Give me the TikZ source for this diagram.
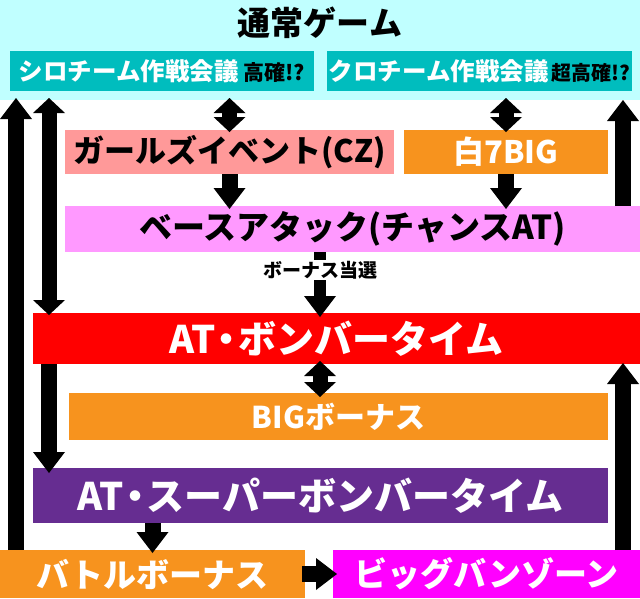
\documentclass[tikz,border=0pt]{standalone}
\usepackage{fontspec}
\setmainfont{Noto Sans CJK JP}[BoldFont={Noto Sans CJK JP Black}]
\usetikzlibrary{arrows.meta}

\definecolor{tsujo}{RGB}{192,255,255}
\definecolor{kaigi}{RGB}{0,189,190}
\definecolor{czpink}{RGB}{255,153,153}
\definecolor{bonus}{RGB}{247,147,30}
\definecolor{basepink}{RGB}{255,153,255}
\definecolor{bomber}{RGB}{255,0,0}
\definecolor{superbomber}{RGB}{102,45,145}
\definecolor{bigbang}{RGB}{255,0,255}

\newcommand{\jpsize}[1]{\fontsize{#1}{#1}\selectfont\bfseries}
\newcommand{\nakaguro}{\hspace{-0.2em}・\hspace{-0.2em}}

\begin{document}
\begin{tikzpicture}[x=1pt, y=-1pt,
  box/.style={inner sep=0pt, outer sep=0pt, text=white},
  arr/.style={line width=16pt, -{Triangle[width=32pt,length=21pt,line width=0pt]}},
  darr/.style={line width=15pt, {Triangle[width=32pt,length=15pt,line width=0pt]}-{Triangle[width=32pt,length=15pt,line width=0pt]}},
  win/.style={fill=white, inner sep=1pt, font=\jpsize{19}}]
\useasboundingbox (0,0) rectangle (640,598);
\fill[tsujo] (0,0) rectangle (640,100);
\node (title) at (320,23) {\jpsize{33}通常ゲーム};
% boxes
\node[box, fill=kaigi, minimum width=304pt, minimum height=40pt] (shiro) at (162,71)
  {\jpsize{24.5}シロチーム作戦会議\hspace{5pt}\textcolor{black}{\jpsize{21}高確!?}};
\node[box, fill=kaigi, minimum width=305pt, minimum height=40pt] (kuro) at (479.5,71)
  {\jpsize{24.5}クロチーム作戦会議\hspace{3pt}\textcolor{black}{\jpsize{20}超高確!?}};
\node[box, fill=czpink, text=black, minimum width=329pt, minimum height=44pt] (girls) at (229.5,152)
  {\jpsize{31}ガールズイベント(CZ)};
\node[box, fill=bonus, minimum width=204pt, minimum height=44pt] (shiro7) at (506,152)
  {\jpsize{31}白7BIG};
\node[box, fill=basepink, text=black, minimum width=575pt, minimum height=46pt] (base) at (352.5,229)
  {\jpsize{33}ベースアタック(チャンスAT)};
\node[box, fill=bomber, minimum width=607pt, minimum height=51pt] (at) at (336.5,338.5)
  {\jpsize{38}AT\nakaguro ボンバータイム};
\node[box, fill=bonus, minimum width=539pt, minimum height=47pt] (big) at (338.5,416.5)
  {\jpsize{30}BIGボーナス};
\node[box, fill=superbomber, minimum width=575pt, minimum height=55pt] (super) at (320.5,495.5)
  {\jpsize{38}AT\nakaguro スーパーボンバータイム};
\node[box, fill=bonus, minimum width=305pt, minimum height=48pt] (battle) at (152.5,574)
  {\jpsize{33}バトルボーナス};
\node[box, fill=bigbang, minimum width=307pt, minimum height=48pt] (bb) at (486.5,574)
  {\jpsize{33}ビッグバンゾーン};
% arrows
\draw[arr, shorten >=7pt] ([xshift=16pt]battle.north west) -- ([xshift=6pt]shiro.south west);
\draw[darr, shorten <=7pt, shorten >=-2pt] ([xshift=39pt]shiro.south west) -- ([xshift=16pt]at.north west);
\draw[darr, shorten <=7pt, shorten >=-2pt] (shiro.south -| girls.north) -- (girls.north);
\draw[darr, shorten <=7pt, shorten >=-2pt] (kuro.south -| shiro7.north) -- (shiro7.north);
\draw[arr, shorten >=-3pt] (girls.south) -- (base.north -| girls.south);
\draw[arr, shorten >=-3pt] (shiro7.south) -- (base.north -| shiro7.south);
\draw[arr, shorten >=9pt] ([xshift=-17pt]base.north east) -- ([xshift=-9pt]kuro.south east);
\draw[arr, line width=12pt, shorten >=-4pt] (base.south -| title) -- node[win, pos=0.3] {ボーナス当選} (at.north -| title);
\draw[darr, shorten <=-3pt, shorten >=-4pt] (at.south -| title) -- (big.north -| title);
\draw[arr, shorten >=-5pt] ([xshift=16pt]at.south west) -- ([xshift=16pt]super.north west);
\draw[arr, shorten >=-1pt] ([xshift=-17pt]bb.north east) -- ([xshift=-17pt]at.south east);
\draw[arr, shorten >=-3pt] (super.south -| battle.north) -- (battle.north);
\draw[arr, shorten <=-3pt, shorten >=-4pt] (battle.east) -- (bb.west);
\end{tikzpicture}
\end{document}
